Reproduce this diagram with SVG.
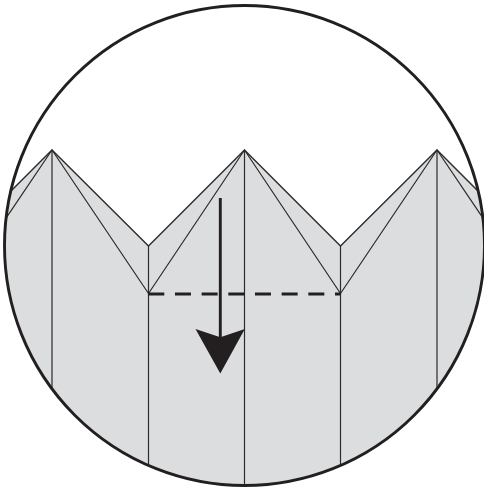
<svg xmlns="http://www.w3.org/2000/svg" width="484" height="491" viewBox="0 0 484 491">
<style>
.thin{fill:none;stroke:#2b2a2c;stroke-width:1.2}
.heavy{fill:none;stroke:#231f20;stroke-width:2.9}
</style>
<defs><clipPath id="c"><circle cx="244.5" cy="245.5" r="240"/></clipPath></defs>
<rect width="484" height="491" fill="#fff"/>
<g id="paper" clip-path="url(#c)">
<path d="M0 202L52 150L148.5 246L244.5 150L340.5 246L437 150L490 203V491H0Z" fill="#dcdddf"/>
<path class="thin" style="stroke-width:1.4" d="M0 202L52 150L148.5 246L244.5 150L340.5 246L437 150L490 203"/>
<path class="thin" d="M52 150V491M148.5 246V491M244.5 150V491M340.5 246V491M437 150V491"/>
<path class="thin" d="M0 227L52 150L148.5 293.5L244.5 150L340.5 293.5L437 150L489 227"/>
</g>
<g id="connectors">
<path class="heavy" d="M148.3 294H340.5" stroke-dasharray="16 10.67"/>
<path class="heavy" d="M220.3 198V340"/>
<path d="M195.5 329L220.3 337.3L244.8 329L220.3 373.5Z" fill="#231f20"/>
</g>
<circle id="lens" cx="244.5" cy="245.5" r="240" fill="none" stroke="#231f20" stroke-width="2.9"/>
</svg>
